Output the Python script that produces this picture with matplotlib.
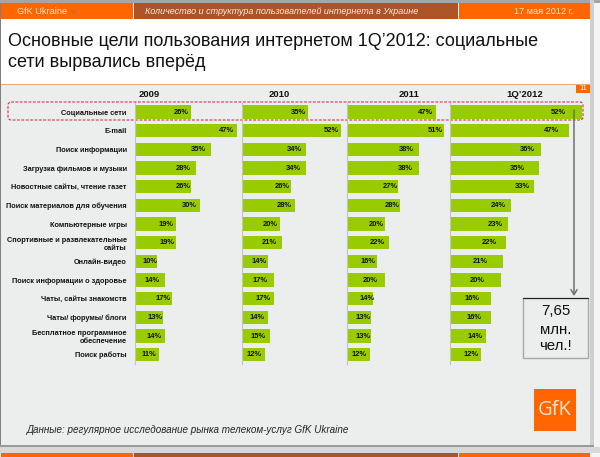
import matplotlib
matplotlib.use("Agg")
import matplotlib.pyplot as plt
from matplotlib.patches import FancyBboxPatch, Rectangle

plt.rcParams["font.family"] = ["Liberation Sans", "DejaVu Sans"]

categories = [
    "Социальные сети",
    "E-mail",
    "Поиск информации",
    "Загрузка фильмов и музыки",
    "Новостные сайты, чтение газет",
    "Поиск материалов для обучения",
    "Компьютерные игры",
    "Спортивные и развлекательные\nсайты",
    "Онлайн-видео",
    "Поиск информации о здоровье",
    "Чаты, сайты знакомств",
    "Чаты/ форумы/ блоги",
    "Бесплатное программное\nобеспечение",
    "Поиск работы",
]
periods = ["2009", "2010", "2011", "1Q’2012"]
values_2009 = [26, 47, 35, 28, 26, 30, 19, 19, 10, 14, 17, 13, 14, 11]
values_2010 = [35, 52, 34, 34, 26, 28, 20, 21, 14, 17, 17, 14, 15, 12]
values_2011 = [47, 51, 38, 38, 27, 28, 20, 22, 16, 20, 14, 13, 13, 12]
values_2012 = [52, 47, 36, 35, 33, 24, 23, 22, 21, 20, 16, 16, 14, 12]

GREEN = "#99CC00"
ORANGE = "#FF6600"
BROWN = "#AD5427"
GREY = "#ECEEEE"
W, H = 600, 457

fig = plt.figure(figsize=(W / 100, H / 100), dpi=100, facecolor="#F4F4F4")

# slide furniture, in pixel coordinates of the reference
bg = fig.add_axes([0, 0, 1, 1])
bg.set_xlim(0, W)
bg.set_ylim(H, 0)
bg.axis("off")


def box(x0, y0, x1, y1, color, **kw):
    bg.add_patch(Rectangle((x0, y0), x1 - x0, y1 - y0, facecolor=color, edgecolor="none", **kw))


box(0, 0, 600, 3, "#A6A6A6")
box(590, 0, 594, 449, "#CFCFCF")
box(0, 445, 594, 447, "#9A9A9A")
box(0, 447, 600, 453, "#D8D8D8")
box(0, 3, 1, 445, "#808080")
box(1, 3, 590, 84, "white")
box(1, 84, 590, 445, GREY)
box(1, 84, 590, 85, "#F2A878")
for y0, y1 in [(3, 19), (453, 457)]:
    box(1, y0, 133, y1, ORANGE)
    box(134, y0, 458, y1, BROWN)
    box(459, y0, 590, y1, ORANGE)

bg.text(42, 11.5, "GfK Ukraine", color="#FBE6D4", fontsize=6.6, ha="center", va="center")
bg.text(145, 11.5, "Количество и структура пользователей интернета в Украине", color="#FBEBDD",
        fontsize=6.5, style="italic", ha="left", va="center")
bg.text(544, 11.5, "17 мая 2012 г.", color="#FBE6D4", fontsize=6.6, ha="center", va="center")

bg.text(8, 46, "Основные цели пользования интернетом 1Q’2012: социальные", fontsize=13.0,
        color="#111111", va="baseline")
bg.text(8, 67, "сети вырвались вперёд", fontsize=13.0, color="#111111", va="baseline")

box(576, 85, 590, 93, ORANGE)
bg.text(583, 89, "11", color="white", fontsize=5.5, ha="center", va="center")

bg.add_patch(FancyBboxPatch((9.5, 103.5), 572, 15, boxstyle="round,pad=1.5,rounding_size=3",
                            facecolor="none", edgecolor="#C8203C", linewidth=0.7, linestyle=(0, (3, 1.5))))

bg.text(27, 430, "Данные: регулярное исследование рынка телеком-услуг GfK Ukraine", fontsize=7.1,
        style="italic", color="#222222", ha="left", va="center")

box(534, 389, 576, 431, ORANGE)
bg.text(555, 410, "GfK", color="#FBE3D0", fontsize=14.5, ha="center", va="center", family="Open Sans")

# panels: left edge px, px per percent, label gap from bar end px
panels = [
    (values_2009, 135.0, 2.17, 149, [3, 3, 5, 5, 1, 3, 3, 2, -1, 6, 1, 1, 4, 3]),
    (values_2010, 241.7, 1.90, 279, [2, 2, 4, 5, 1, 3, 2, 5, 2, 6, 3, 4, 5, 3]),
    (values_2011, 346.7, 1.90, 409, [3, 1, 5, 6, 0, 0, 1, 4, 2, 7, -1, 1, 1, 3]),
    (values_2012, 450.3, 2.53, 525, [16, 10, 7, 14, 4, 5, 6, 9, 16, 16, 11, 9, 3, 2]),
]
top, bottom = 102.7, 364.0

for i, (vals, left, scale, head_x, gaps) in enumerate(panels):
    width = 135
    ax = fig.add_axes([left / W, 1 - bottom / H, width / W, (bottom - top) / H])
    ax.patch.set_alpha(0)
    ax.set_xlim(0, width / scale)
    ax.set_ylim(len(categories) - 0.5, -0.5)
    ax.barh(range(len(vals)), vals, height=0.72, color=GREEN, zorder=2)
    for s in ["top", "right", "bottom"]:
        ax.spines[s].set_visible(False)
    ax.spines["left"].set_color("#C4C4C4")
    ax.spines["left"].set_linewidth(0.8)
    ax.xaxis.set_visible(False)
    ax.set_yticks(range(len(vals)))
    ax.tick_params(axis="y", length=0, pad=6)
    if i == 0:
        ax.set_yticklabels(categories, fontsize=5.3, fontweight="bold", color="#111111",
                           linespacing=1.25)
    else:
        ax.set_yticklabels([])
    for j, v in enumerate(vals):
        ax.annotate(f"{v}%", (v, j), xytext=(-gaps[j] * 0.72, 0), textcoords="offset points",
                    ha="right", va="center", fontsize=5.4, fontweight="bold", color="#111111", zorder=3)
    bg.text(head_x, 94.5, periods[i], fontsize=6.8, fontweight="bold", color="#111111",
            ha="center", va="center")

# arrow down to the callout, on top of the bars
over = fig.add_axes([0, 0, 1, 1])
over.set_xlim(0, W)
over.set_ylim(H, 0)
over.axis("off")
over.annotate("", xy=(574, 296), xytext=(574, 110),
              arrowprops=dict(arrowstyle="->,head_length=0.35,head_width=0.22", color="#707070", lw=1.1,
                              shrinkA=0, shrinkB=0))
over.add_patch(Rectangle((523, 298), 65, 60, facecolor=GREY, edgecolor="#A8A8A8", linewidth=1))
over.plot([523, 588], [298, 298], color="#222222", lw=0.8)
for txt, y in [("7,65", 311), ("млн.", 329.5), ("чел.!", 346.5)]:
    over.text(555.5, y, txt, fontsize=10.8, color="#111111", ha="center", va="center")

fig.savefig("out.png", dpi=100)
